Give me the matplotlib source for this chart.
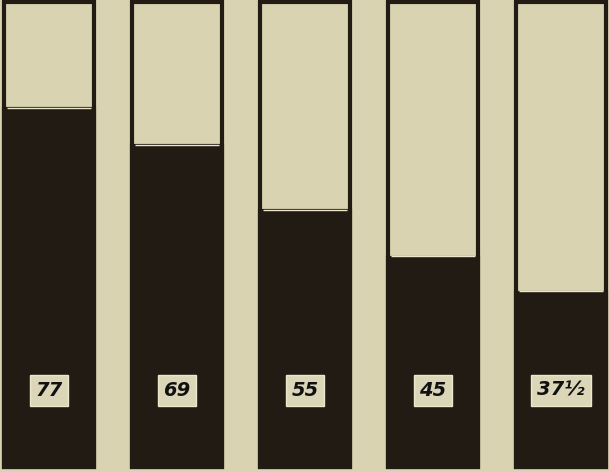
import matplotlib.pyplot as plt

# Data (percent filled)
labels = ["77", "69", "55", "45", "37½"]
values = [77, 69, 55, 45, 37.5]
full = 100

paper = "#dad3b1"
ink = "#221b13"

fig = plt.figure(figsize=(6.10, 4.72), dpi=100)
fig.patch.set_facecolor(paper)
ax = fig.add_axes([0, 0, 1, 1])
ax.set_facecolor(paper)
ax.set_xlim(-0.383, 4.383)
ax.set_ylim(-1.08, 100.43)
ax.axis('off')

x = list(range(len(values)))
width = 0.70

# empty column outline, then the dark filled part
ax.bar(x, [full] * len(values), width=width, color=paper, edgecolor=ink, linewidth=3.0)
ax.bar(x, values, width=width, color=ink, edgecolor=ink, linewidth=3.0)
# thin light line between empty part and fill
ax.hlines([v + 0.3 for v in values], [i - width / 2 + 0.025 for i in x],
          [i + width / 2 - 0.025 for i in x], color="#ebe6cc", linewidth=1.0)

# label boxes near the bottom
for i, lab in zip(x, labels):
    ax.text(i, 16.5, lab, ha="center", va="center", fontsize=14, fontstyle="italic",
            fontweight="bold", color="#111111",
            bbox=dict(boxstyle="square,pad=0.3", facecolor="#dcd6b8", edgecolor="#ebe6cc", linewidth=1))

fig.savefig("out.png", dpi=100, facecolor=paper)
